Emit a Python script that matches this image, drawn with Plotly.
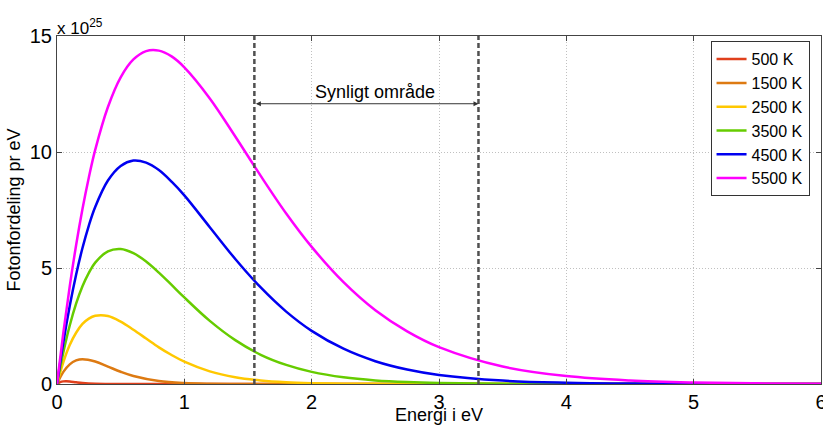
import plotly.graph_objects as go

# ---- data (values in units of 1e25 photons per eV) ----
temps = ["500 K", "1500 K", "2500 K", "3500 K", "4500 K", "5500 K"]
colors = ["#E0401C", "#DD7A12", "#FFC800", "#66CC00", "#0000F0", "#FF00FF"]

e_500 = [0, 0.025, 0.05, 0.075, 0.1, 0.15, 0.2, 0.3, 0.4, 0.5, 1.0, 2.0, 6.0]
n_500 = [0, 0.079, 0.113, 0.118, 0.108, 0.071, 0.039, 0.0084, 0.0015, 0.0002, 0, 0, 0]

e_1500 = [0, 0.05, 0.1, 0.15, 0.2, 0.3, 0.4, 0.5, 0.6, 0.8, 1.0, 1.2, 1.4, 1.6, 2.0, 6.0]
n_1500 = [0, 0.524, 0.848, 1.016, 1.070, 0.969, 0.751, 0.528, 0.347, 0.130, 0.043, 0.013, 0.004, 0.001, 0, 0]

e_grid = [0, 0.05, 0.1, 0.15, 0.2, 0.25, 0.3, 0.4, 0.5, 0.6, 0.7, 0.8, 0.9, 1.0, 1.2, 1.4, 1.6, 1.8, 2.0,
          2.25, 2.5, 2.75, 3.0, 3.5, 4.0, 4.5, 5.0, 5.5, 6.0]
n_2500 = [0, 0.947, 1.68, 2.21, 2.59, 2.82, 2.94, 2.93, 2.69, 2.34, 1.96, 1.58, 1.249, 0.964, 0.545, 0.292,
          0.151, 0.075, 0.037, 0.015, 0.006, 0.002, 0.001, 0, 0, 0, 0, 0, 0]
n_3500 = [0, 1.37, 2.52, 3.46, 4.21, 4.79, 5.23, 5.72, 5.82, 5.64, 5.28, 4.80, 4.27, 3.73, 2.72, 1.89,
          1.26, 0.823, 0.523, 0.289, 0.155, 0.082, 0.043, 0.011, 0.003, 0.001, 0, 0, 0]
n_4500 = [0, 1.80, 3.36, 4.71, 5.86, 6.83, 7.63, 8.77, 9.40, 9.63, 9.54, 9.22, 8.72, 8.13, 6.76, 5.39,
          4.16, 3.12, 2.29, 1.52, 0.982, 0.623, 0.389, 0.146, 0.053, 0.018, 0.006, 0.002, 0.001]
n_5500 = [0, 2.22, 4.21, 5.98, 7.54, 8.90, 10.09, 11.94, 13.22, 13.99, 14.35, 14.37, 14.12, 13.65, 12.31,
          10.67, 8.97, 7.35, 5.91, 4.39, 3.18, 2.27, 1.59, 0.754, 0.342, 0.151, 0.065, 0.027, 0.011]

series_x = [e_500, e_1500, e_grid, e_grid, e_grid, e_grid]
series_y = [n_500, n_1500, n_2500, n_3500, n_4500, n_5500]

visible_range = [1.55, 3.31]
x_ticks = [0, 1, 2, 3, 4, 5, 6]
y_ticks = [0, 5, 10, 15]

FONT = "Liberation Sans, Arial, sans-serif"

fig = go.Figure()
for name, c, xs, ys in zip(temps, colors, series_x, series_y):
    fig.add_trace(go.Scatter(x=xs, y=ys, mode="lines", name=name,
                             line=dict(color=c, width=2.5, shape="spline", smoothing=1.0)))

# visible-range dashed lines
for xv in visible_range:
    fig.add_shape(type="line", x0=xv, x1=xv, y0=0, y1=15, xref="x", yref="y",
                  line=dict(color="#505050", width=2.5, dash="5px,3px"))

# double arrow
fig.add_annotation(x=visible_range[1], y=12.08, ax=visible_range[0], ay=12.08,
                   xref="x", yref="y", axref="x", ayref="y", text="",
                   showarrow=True, arrowhead=2, arrowside="end+start", arrowsize=1,
                   arrowwidth=1, arrowcolor="#333333", standoff=0, startstandoff=0)
fig.add_annotation(x=2.5, y=12.6, xref="x", yref="y", text="Synligt område",
                   showarrow=False, font=dict(family=FONT, size=18, color="black"))

# exponent label
fig.add_annotation(x=0, y=1, xref="paper", yref="paper", xanchor="left", yanchor="bottom",
                   text="x 10<sup>25</sup>", showarrow=False, xshift=-2, yshift=-4,
                   font=dict(family=FONT, size=17, color="black"))

# x-axis title
fig.add_annotation(x=0.5, y=0, xref="paper", yref="paper", xanchor="center", yanchor="middle",
                   yshift=-31, text="Energi i eV", showarrow=False,
                   font=dict(family=FONT, size=18, color="black"))

fig.update_layout(
    width=823, height=425,
    margin=dict(l=57, r=2, t=36, b=41),
    plot_bgcolor="white", paper_bgcolor="white",
    font=dict(family=FONT, size=18, color="black"),
    showlegend=True,
    legend=dict(x=0.985, y=0.985, xanchor="right", yanchor="top",
                bgcolor="white", bordercolor="#333333", borderwidth=1,
                font=dict(family=FONT, size=16, color="black"),
                tracegroupgap=0, itemwidth=30),
)
fig.update_xaxes(range=[0, 6], tickvals=x_ticks, ticks="inside", ticklen=5,
                 tickcolor="#444444", showline=True, linecolor="#444444", linewidth=1,
                 mirror="ticks", showgrid=True, gridcolor="#c0c0c0", griddash="1px,2px",
                 gridwidth=1, zeroline=False, ticklabeloverflow="allow", automargin=False,
                 tickfont=dict(size=20))
fig.update_yaxes(range=[0, 15], tickvals=y_ticks, ticks="inside", ticklen=5,
                 tickcolor="#444444", showline=True, linecolor="#444444", linewidth=1,
                 mirror="ticks", showgrid=True, gridcolor="#c0c0c0", griddash="1px,2px",
                 gridwidth=1, zeroline=False, ticklabeloverflow="allow", automargin=False,
                 title=dict(text="Fotonfordeling pr eV", standoff=4, font=dict(size=18)),
                 tickfont=dict(size=20))

fig.write_html("out.html")
